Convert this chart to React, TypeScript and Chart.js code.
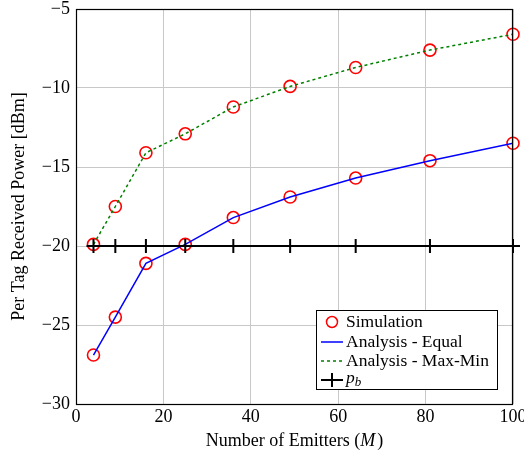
import React, { useEffect, useRef } from "react";
import { Chart, registerables } from "chart.js";

Chart.register(...registerables);

const emitters = [4, 9, 16, 25, 36, 49, 64, 81, 100];
const equalPower = [-26.9, -24.5, -21.1, -19.9, -18.2, -16.9, -15.7, -14.6, -13.5];
const maxMinPower = [-19.9, -17.5, -14.1, -12.9, -11.2, -9.9, -8.7, -7.6, -6.6];
const simEqual = [-26.9, -24.5, -21.1, -19.9, -18.2, -16.9, -15.7, -14.6, -13.5];
const simMaxMin = [-19.9, -17.5, -14.1, -12.9, -11.2, -9.9, -8.7, -7.6, -6.6];
const pb = [-20, -20, -20, -20, -20, -20, -20, -20, -20];
const xTicks = [0, 20, 40, 60, 80, 100];
const yTicks = [-30, -25, -20, -15, -10, -5];

const SERIF = "'Liberation Serif', 'DejaVu Serif', serif";
const BLUE = "#0000ff";
const GREEN = "#008000";
const RED = "#ff0000";
const FS = 18;

const pts = (ys: number[]) => emitters.map((x, i) => ({ x, y: ys[i] }));

const overlayPlugin = {
  id: "overlay",
  afterDraw(chart: any) {
    const { ctx, chartArea } = chart;
    const { left, right, top, bottom } = chartArea;
    ctx.save();
    // frame
    ctx.strokeStyle = "#000";
    ctx.lineWidth = 1.2;
    ctx.strokeRect(left + 0.5, top + 0.5, right - left - 1, bottom - top);

    // axis titles
    ctx.fillStyle = "#000";
    ctx.textBaseline = "alphabetic";
    const xt1 = "Number of Emitters (";
    const xt2 = "M";
    const xt3 = ")";
    ctx.font = `${FS}px ${SERIF}`;
    const w1 = ctx.measureText(xt1).width;
    const w3 = ctx.measureText(xt3).width;
    ctx.font = `italic ${FS}px ${SERIF}`;
    const w2 = ctx.measureText(xt2).width + 2;
    const total = w1 + w2 + w3;
    const cx = (left + right) / 2;
    const x0 = cx - total / 2;
    const ty = 446;
    ctx.font = `${FS}px ${SERIF}`;
    ctx.textAlign = "left";
    ctx.fillText(xt1, x0, ty);
    ctx.font = `italic ${FS}px ${SERIF}`;
    ctx.fillText(xt2, x0 + w1, ty);
    ctx.font = `${FS}px ${SERIF}`;
    ctx.fillText(xt3, x0 + w1 + w2, ty);

    ctx.save();
    ctx.translate(24, (top + bottom) / 2);
    ctx.rotate(-Math.PI / 2);
    ctx.textAlign = "center";
    ctx.font = `${FS}px ${SERIF}`;
    ctx.fillText("Per Tag Received Power [dBm]", 0, 0);
    ctx.restore();

    // legend
    const bx = 316, by = 310, bw = 181, bh = 79;
    ctx.fillStyle = "#fff";
    ctx.fillRect(bx, by, bw, bh);
    ctx.strokeStyle = "#000";
    ctx.lineWidth = 1;
    ctx.strokeRect(bx + 0.5, by + 0.5, bw, bh);
    const rows = [322, 342, 361, 380];
    const sx0 = 321, sx1 = 343, tx = 346;
    // sim
    ctx.strokeStyle = RED;
    ctx.lineWidth = 1.5;
    ctx.beginPath();
    ctx.arc((sx0 + sx1) / 2, rows[0], 5.5, 0, Math.PI * 2);
    ctx.stroke();
    // equal
    ctx.strokeStyle = BLUE;
    ctx.beginPath();
    ctx.moveTo(sx0, rows[1]);
    ctx.lineTo(sx1, rows[1]);
    ctx.stroke();
    // maxmin
    ctx.strokeStyle = GREEN;
    ctx.setLineDash([3, 3]);
    ctx.beginPath();
    ctx.moveTo(sx0, rows[2]);
    ctx.lineTo(sx1, rows[2]);
    ctx.stroke();
    ctx.setLineDash([]);
    // pb
    ctx.strokeStyle = "#000";
    ctx.lineWidth = 2;
    ctx.beginPath();
    ctx.moveTo(sx0, rows[3]);
    ctx.lineTo(sx1, rows[3]);
    ctx.moveTo((sx0 + sx1) / 2, rows[3] - 7);
    ctx.lineTo((sx0 + sx1) / 2, rows[3] + 7);
    ctx.stroke();

    ctx.fillStyle = "#000";
    ctx.textAlign = "left";
    ctx.textBaseline = "middle";
    ctx.font = `17.5px ${SERIF}`;
    ctx.fillText("Simulation", tx, rows[0]);
    ctx.fillText("Analysis - Equal", tx, rows[1]);
    ctx.fillText("Analysis - Max-Min", tx, rows[2]);
    ctx.font = `italic 17.5px ${SERIF}`;
    ctx.fillText("p", tx, rows[3] - 2);
    const pw = ctx.measureText("p").width;
    ctx.font = `italic 13px ${SERIF}`;
    ctx.fillText("b", tx + pw, rows[3] + 3);
    ctx.restore();
  },
};

export default function App() {
  const ref = useRef<HTMLCanvasElement>(null);
  useEffect(() => {
    document.body.style.margin = "0";
    const canvas = ref.current!;
    const chart = new Chart(canvas, {
      type: "line",
      data: {
        datasets: [
          {
            label: "pb",
            data: pts(pb),
            borderColor: "#000",
            borderWidth: 2,
            pointStyle: "cross",
            pointRadius: 7,
            pointBorderWidth: 2,
            pointBorderColor: "#000",
            showLine: true,
            clip: false,
          },
          {
            label: "Analysis - Equal",
            data: pts(equalPower),
            borderColor: BLUE,
            borderWidth: 1.5,
            pointRadius: 0,
            showLine: true,
          },
          {
            label: "Analysis - Max-Min",
            data: pts(maxMinPower),
            borderColor: GREEN,
            borderWidth: 1.5,
            borderDash: [3, 3],
            pointRadius: 0,
            showLine: true,
          },
          {
            label: "Simulation",
            data: pts(simEqual),
            showLine: false,
            pointStyle: "circle",
            pointRadius: 6,
            pointBorderWidth: 1.6,
            pointBorderColor: RED,
            pointBackgroundColor: "rgba(0,0,0,0)",
            clip: false,
          },
          {
            label: "Simulation2",
            data: pts(simMaxMin),
            showLine: false,
            pointStyle: "circle",
            pointRadius: 6,
            pointBorderWidth: 1.6,
            pointBorderColor: RED,
            pointBackgroundColor: "rgba(0,0,0,0)",
            clip: false,
          },
        ],
      },
      options: {
        animation: false,
        responsive: false,
        layout: { padding: { top: 6, right: 11, left: 0, bottom: 0 } },
        plugins: {
          legend: { display: false },
          tooltip: { enabled: false },
        },
        scales: {
          x: {
            type: "linear",
            min: 0,
            max: 100,
            afterBuildTicks: (s: any) => {
              s.ticks = xTicks.map((v) => ({ value: v }));
            },
            afterFit: (s: any) => {
              s.height = 54;
              s.paddingLeft = 0;
              s.paddingRight = 0;
            },
            grid: { color: "#c8c8c8", lineWidth: 1, drawTicks: false },
            border: { display: false },
            ticks: {
              color: "#000",
              font: { family: SERIF, size: FS },
              padding: 2,
              maxRotation: 0,
            },
          },
          y: {
            type: "linear",
            min: -30,
            max: -5,
            afterBuildTicks: (s: any) => {
              s.ticks = yTicks.map((v) => ({ value: v }));
            },
            afterFit: (s: any) => {
              s.width = 76;
              s.paddingTop = 0;
              s.paddingBottom = 0;
            },
            grid: { color: "#c8c8c8", lineWidth: 1, drawTicks: false },
            border: { display: false },
            ticks: {
              color: "#000",
              font: { family: SERIF, size: FS, lineHeight: 0.6 },
              padding: 6,
              callback: (v: any) => String(v).replace("-", "\u2212"),
            },
          },
        },
      },
      plugins: [overlayPlugin],
    });
    return () => chart.destroy();
  }, []);
  return <canvas ref={ref} width={524} height={458} style={{ display: "block" }} />;
}
